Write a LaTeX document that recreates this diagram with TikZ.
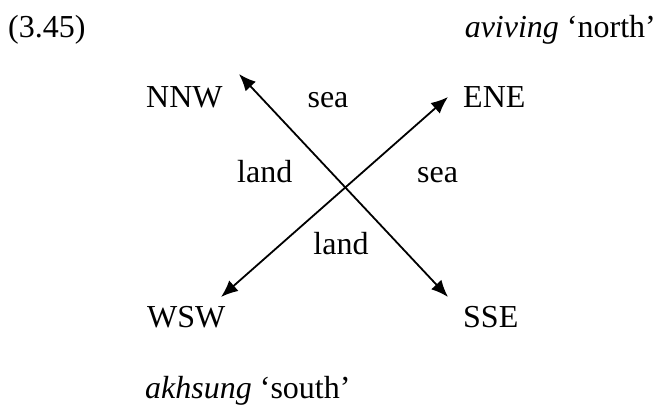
\documentclass[tikz,border=0pt]{standalone}
\usepackage{fontspec}
\setmainfont{Liberation Serif}
\usetikzlibrary{arrows.meta}
\begin{document}
\begin{tikzpicture}[x=1pt,y=-1pt,
  lbl/.style={inner sep=0pt,font=\fontsize{32}{38}\selectfont},
  dir/.style={line width=1.8pt,{Latex[length=17pt,width=14pt]}-{Latex[length=17pt,width=14pt]}}]
\useasboundingbox (0,0) rectangle (657,407);
\node[lbl,anchor=base west] (num) at (8,37) {(3.45)};
\node[lbl,anchor=base east] (north) at (656,37) {\textit{aviving} ‘north’};
\node[lbl,anchor=base west] (nnw) at (146,107) {NNW};
\node[lbl,anchor=base] (seat) at (328,107) {sea};
\node[lbl,anchor=base west] (ene) at (463,107) {ENE};
\node[lbl,anchor=base west] (landl) at (237,182) {land};
\node[lbl,anchor=base west] (sear) at (417,182) {sea};
\node[lbl,anchor=base] (landb) at (341,254) {land};
\node[lbl,anchor=base west] (wsw) at (147,327) {WSW};
\node[lbl,anchor=base west] (sse) at (463,327) {SSE};
\node[lbl,anchor=base west] (south) at (145,398) {\textit{akhsung} ‘south’};
\coordinate (pnw) at (239,74);
\coordinate (pse) at (448,297);
\coordinate (pne) at (448,97);
\coordinate (psw) at (221,297);
\draw[dir] (pnw) -- (pse);
\draw[dir] (psw) -- (pne);
\end{tikzpicture}
\end{document}
